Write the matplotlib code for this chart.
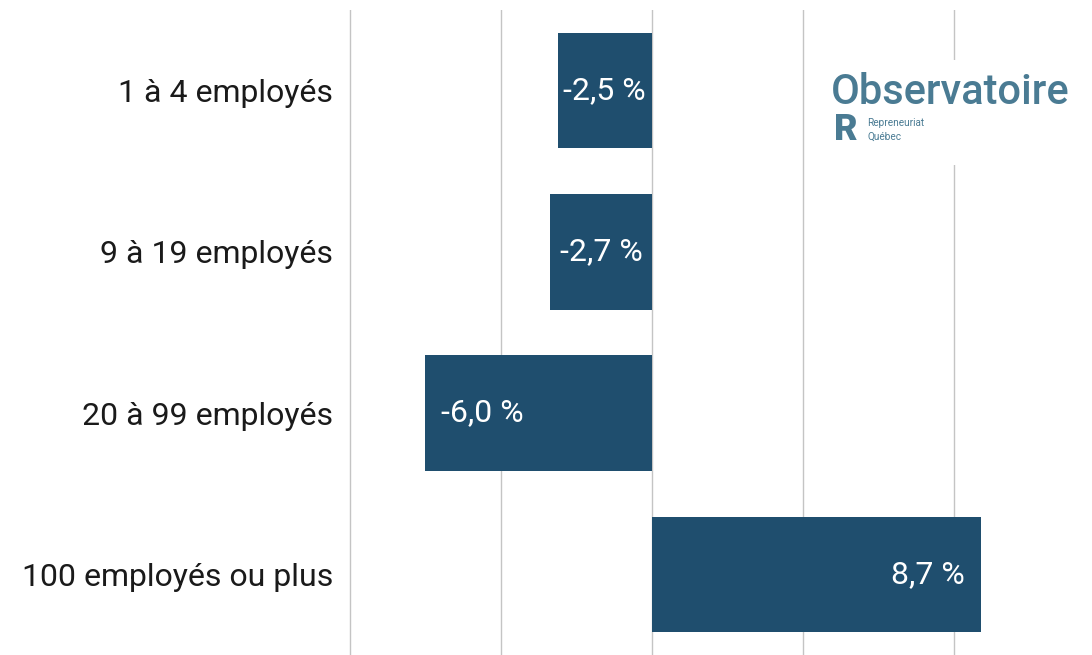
import matplotlib
matplotlib.use('Agg')
import matplotlib.pyplot as plt
from matplotlib.patches import Rectangle

categories = ['1 à 4 employés', '9 à 19 employés', '20 à 99 employés', '100 employés ou plus']
values = [-2.5, -2.7, -6.0, 8.7]
value_labels = ['-2,5 %', '-2,7 %', '-6,0 %', '8,7 %']
grid_ticks = [-8, -4, 0, 4, 8]

bar_color = '#1f4e6e'
logo_color = '#4a7b93'

plt.rcParams['font.family'] = ['Roboto', 'DejaVu Sans']

W, H = 1092, 655
fig = plt.figure(figsize=(W/100, H/100), dpi=100)
# axes placed in pixel terms: zero at x=652, ~37.8 px per unit
L, R, T, B = 340, 1092, 10, 655
ax = fig.add_axes([L/W, (H-B)/H, (R-L)/W, (B-T)/H])
ppu = 37.8
ax.set_xlim((L-652)/ppu, (R-652)/ppu)
ax.set_ylim(len(categories)-0.5, -0.5)

for g in grid_ticks:
    ax.axvline(g, color='#c4c4c4', lw=1, zorder=0)

ypos = list(range(len(categories)))
ax.barh(ypos, values, height=0.716, color=bar_color, zorder=2)

for y, v, lab in zip(ypos, values, value_labels):
    if abs(v) < 4:
        ax.text(v/2, y, lab, color='white', fontsize=23, ha='center', va='center', zorder=3)
    else:
        off = -16 if v > 0 else 16
        ax.annotate(lab, (v, y), xytext=(off*0.72, 0), textcoords='offset points',
                    color='white', fontsize=23, ha='right' if v > 0 else 'left',
                    va='center', zorder=3)

ax.set_yticks(ypos)
ax.set_yticklabels(categories, fontsize=23, color='#1a1a1a')
ax.tick_params(axis='y', length=0, pad=5)
ax.set_xticks([])
for s in ax.spines.values():
    s.set_visible(False)

# logo block
fig.patches.append(Rectangle((825/W, (H-165)/H), 255/W, 105/H, transform=fig.transFigure,
                             facecolor='white', edgecolor='none', zorder=5))
fig.text(831/W, (H-93)/H, 'Observatoire', fontsize=30, color=logo_color,
         fontweight='medium', ha='left', va='center', zorder=6)
fig.text(834/W, (H-130)/H, 'R', fontsize=26, color=logo_color, fontweight='black',
         ha='left', va='center', zorder=6)
fig.text(867/W, (H-123)/H, 'Repreneuriat', fontsize=7.2, color=logo_color,
         ha='left', va='center', zorder=6)
fig.text(867/W, (H-137)/H, 'Québec', fontsize=7.2, color=logo_color,
         ha='left', va='center', zorder=6)

fig.savefig('out.png', dpi=100)
